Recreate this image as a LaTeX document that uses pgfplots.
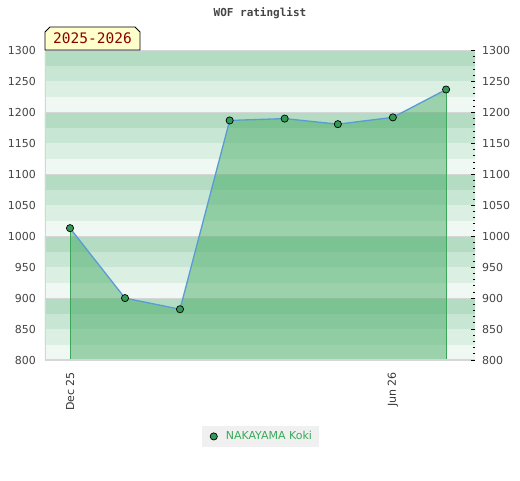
\documentclass[border=0pt]{standalone}
\usepackage{pgfplots}
\pgfplotsset{compat=1.18}
\usepackage{fontspec}
\setmainfont{DejaVu Sans}
\newfontfamily\monof{DejaVu Sans Mono}
\definecolor{bandA}{HTML}{B3DCC3}
\definecolor{bandB}{HTML}{C8E6D4}
\definecolor{bandC}{HTML}{DCEFE3}
\definecolor{bandD}{HTML}{F0F8F3}
\definecolor{gridg}{HTML}{D6D6D6}
\definecolor{fillg}{HTML}{3CA75C}
\definecolor{lineb}{HTML}{5B9BD5}
\definecolor{markg}{HTML}{339955}
\definecolor{legtext}{HTML}{3AAA5A}
\definecolor{legbg}{HTML}{F0F0F0}
\definecolor{labg}{HTML}{444444}
\definecolor{boxy}{HTML}{FFFFCC}
\definecolor{darkred}{HTML}{8B0000}
\pgfplotstableread{
x y
0 1013
31 900
62 882
90 1187
121 1190
151 1181
182 1192
212 1237
}\ratings
\begin{document}
\begin{tikzpicture}[x=1pt,y=1pt]
\useasboundingbox (0,0) rectangle (520,480);
\node[font=\monof\bfseries\fontsize{11}{13}\selectfont, text=labg] at (260,467) {WOF ratinglist};
\begin{axis}[
  at={(45pt,120pt)}, anchor=south west,
  scale only axis, width=430pt, height=309.5pt,
  xmin=-14.1, xmax=228.3, ymin=800, ymax=1300,
  axis line style={draw=none},
  major tick length=0pt, minor tick length=0pt,
  ytick={800,850,...,1300}, ytick pos=left,
  xtick={0,182}, xticklabels={Dec 25,Jun 26}, xtick pos=bottom,
  /pgf/number format/assume math mode=true,
  /pgf/number format/1000 sep={},
  yticklabel style={font=\fontsize{11}{13}\selectfont, text=labg, inner sep=0pt, anchor=east},
  yticklabel shift=9pt,
  xticklabel style={font=\fontsize{11}{13}\selectfont, text=labg!80!black, inner sep=0pt, rotate=90, anchor=east},
  xticklabel shift=12pt,
  legend style={at={(0.502,-0.247)}, anchor=center, fill=legbg, draw=none,
    font=\fontsize{11}{13}\selectfont, text=legtext, inner xsep=5.5pt, inner ysep=3.5pt},
  legend image code/.code={\path[draw=none,fill=none] (0pt,-3pt) rectangle (16pt,3pt); \draw[#1] plot coordinates {(6pt,0pt)};},
  clip=true,
]
% background bands
\fill[bandA] (axis cs:-20,1275) rectangle (axis cs:240,1300);
\fill[bandB] (axis cs:-20,1250) rectangle (axis cs:240,1275);
\fill[bandC] (axis cs:-20,1225) rectangle (axis cs:240,1250);
\fill[bandD] (axis cs:-20,1200) rectangle (axis cs:240,1225);
\fill[bandA] (axis cs:-20,1175) rectangle (axis cs:240,1200);
\fill[bandB] (axis cs:-20,1150) rectangle (axis cs:240,1175);
\fill[bandC] (axis cs:-20,1125) rectangle (axis cs:240,1150);
\fill[bandD] (axis cs:-20,1100) rectangle (axis cs:240,1125);
\fill[bandA] (axis cs:-20,1075) rectangle (axis cs:240,1100);
\fill[bandB] (axis cs:-20,1050) rectangle (axis cs:240,1075);
\fill[bandC] (axis cs:-20,1025) rectangle (axis cs:240,1050);
\fill[bandD] (axis cs:-20,1000) rectangle (axis cs:240,1025);
\fill[bandA] (axis cs:-20,975) rectangle (axis cs:240,1000);
\fill[bandB] (axis cs:-20,950) rectangle (axis cs:240,975);
\fill[bandC] (axis cs:-20,925) rectangle (axis cs:240,950);
\fill[bandD] (axis cs:-20,900) rectangle (axis cs:240,925);
\fill[bandA] (axis cs:-20,875) rectangle (axis cs:240,900);
\fill[bandB] (axis cs:-20,850) rectangle (axis cs:240,875);
\fill[bandC] (axis cs:-20,825) rectangle (axis cs:240,850);
\fill[bandD] (axis cs:-20,800) rectangle (axis cs:240,825);
\draw[gridg, line width=1pt] (axis cs:-20,900) -- (axis cs:240,900);
\draw[gridg, line width=1pt] (axis cs:-20,1000) -- (axis cs:240,1000);
\draw[gridg, line width=1pt] (axis cs:-20,1100) -- (axis cs:240,1100);
\draw[gridg, line width=1pt] (axis cs:-20,1200) -- (axis cs:240,1200);
% area
\addplot[forget plot, fill=fillg, fill opacity=0.47, draw=none]
  coordinates {(0,800) (0,1013) (31,900) (62,882) (90,1187) (121,1190) (151,1181) (182,1192) (212,1237) (212,800)} -- cycle;
\addplot[forget plot, fillg, line width=0.9pt] coordinates {(0,800) (0,1013)};
\addplot[forget plot, fillg, line width=0.9pt] coordinates {(212,800) (212,1237)};
\addplot[forget plot, lineb, line width=1.3pt] table[x=x,y=y] {\ratings};
\addplot[only marks, mark=*, mark size=3.6pt, mark options={fill=markg, draw=black, line width=0.7pt}] table[x=x,y=y] {\ratings};
\addlegendentry{NAKAYAMA Koki}
\draw[gridg, line width=1.2pt] (rel axis cs:1,1) -- (rel axis cs:0,1) -- (rel axis cs:0,0) -- (rel axis cs:1,0);
\end{axis}
\begin{axis}[
  at={(45pt,120pt)}, anchor=south west,
  scale only axis, width=430pt, height=309.5pt,
  xmin=-14.1, xmax=228.3, ymin=800, ymax=1300,
  axis x line=none, axis y line*=right,
  y axis line style={draw=none},
  ytick={800,850,...,1300}, minor y tick num=4,
  tick align=inside, major tick length=4.5pt, minor tick length=2.5pt,
  every tick/.style={black, line width=0.8pt},
  /pgf/number format/assume math mode=true,
  /pgf/number format/1000 sep={},
  yticklabel style={font=\fontsize{11}{13}\selectfont, text=labg, inner sep=0pt, anchor=west},
  yticklabel shift=7pt,
]
\addplot[draw=none, forget plot] coordinates {(0,800) (212,1300)};
\end{axis}
\draw[black, fill=boxy, line width=0.8pt] (45,430) -- (45,448) -- (50,453) -- (135,453) -- (140,448) -- (140,430) -- cycle;
\node[font=\monof\fontsize{14.5}{16}\selectfont, text=darkred] at (92.5,441.5) {2025-2026};
\end{tikzpicture}
\end{document}
